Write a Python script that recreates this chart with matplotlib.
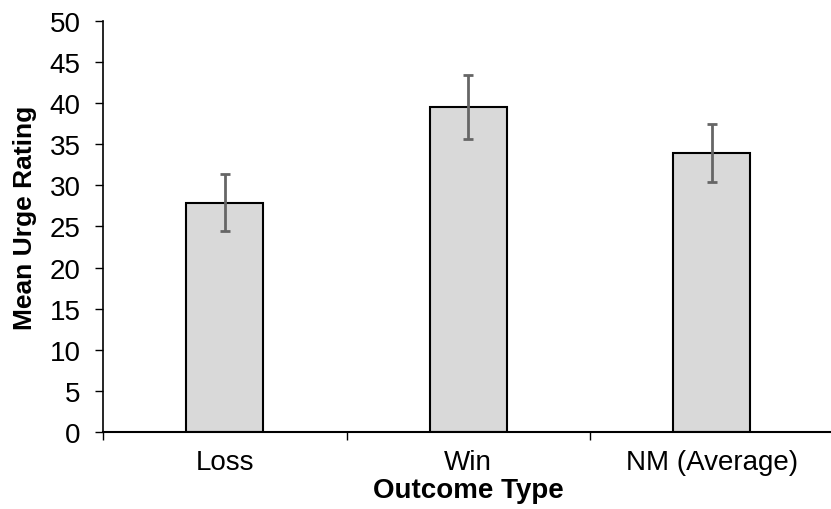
import matplotlib
matplotlib.use("Agg")
import matplotlib.pyplot as plt

categories = ["Loss", "Win", "NM (Average)"]
means = [27.9, 39.5, 33.9]
errors = [3.5, 3.9, 3.55]
y_ticks = [0, 5, 10, 15, 20, 25, 30, 35, 40, 45, 50]

plt.rcParams['font.family'] = ['Liberation Sans', 'DejaVu Sans']

fig = plt.figure(figsize=(8.31, 5.10), dpi=100)
ax = fig.add_axes([0.124, 0.151, 0.879, 0.806])

xs = list(range(len(categories)))
ax.bar(xs, means, width=0.316, color='#d9d9d9', edgecolor='black', linewidth=1.5,
       yerr=errors, error_kw=dict(ecolor='#666666', elinewidth=2, capsize=3.8, capthick=2),
       zorder=2)

ax.set_xlim(-0.5, len(categories) - 0.5)
ax.set_ylim(0, 50)
ax.set_yticks(y_ticks)
ax.set_xticks([x - 0.5 for x in range(len(categories) + 1)])
ax.set_xticklabels([])
ax.set_xticks(xs, minor=True)
ax.set_xticklabels(categories, minor=True)
ax.tick_params(axis='x', which='minor', length=0, pad=12, labelsize=20)
ax.tick_params(axis='x', which='major', length=6, width=1, direction='out')
ax.tick_params(axis='y', length=6, width=1, direction='out', labelsize=20, pad=10)

for side in ['top', 'right']:
    ax.spines[side].set_visible(False)
ax.spines['left'].set_linewidth(1.2)
ax.spines['bottom'].set_linewidth(1.5)

ax.set_ylabel("Mean Urge Rating", fontsize=19, fontweight='bold')
ax.yaxis.set_label_coords(-0.09, 0.523)
ax.set_xlabel("Outcome Type", fontsize=20, fontweight='bold', labelpad=2)

fig.savefig("out.png", dpi=100)
